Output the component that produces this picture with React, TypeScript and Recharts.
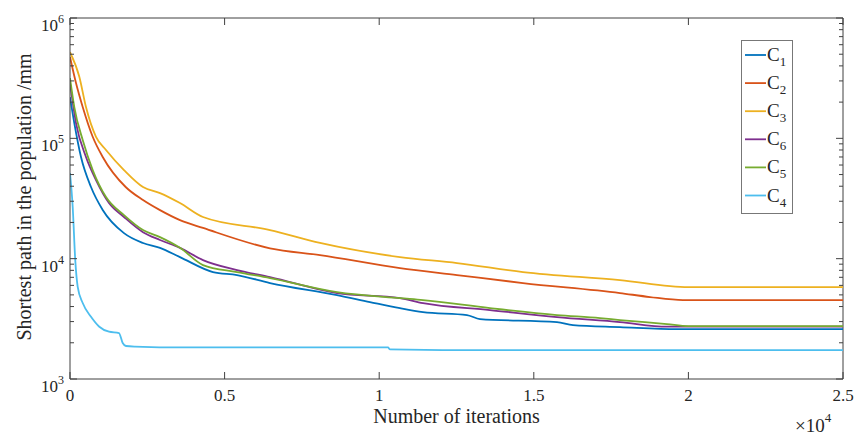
import React from 'react';
import { LineChart, Line, XAxis, YAxis, Legend, ReferenceLine } from 'recharts';

// ---------- data ----------
const C1_ITER = [0, 139, 356, 679, 1058, 1746, 2361, 2911, 3557, 4625, 5401, 6468, 8635, 9702, 10672, 11416, 12839, 13260, 15750, 16267, 17787, 19630, 25000];
const C1_VAL = [220000, 134000, 70000, 39400, 25400, 16300, 13500, 12300, 10300, 7740, 7310, 6270, 4980, 4360, 3880, 3600, 3400, 3150, 2970, 2800, 2700, 2600, 2600];

const C2_ITER = [0, 194, 411, 734, 1058, 1800, 2361, 2911, 3557, 4301, 6468, 8085, 10672, 12516, 14650, 17787, 18758, 19825, 25000];
const C2_VAL = [474000, 288000, 182000, 103000, 70000, 39400, 30700, 25300, 20900, 18000, 12200, 10700, 8350, 7310, 6270, 5180, 4800, 4530, 4530];

const C3_ITER = [0, 301, 517, 841, 1164, 1746, 2361, 2911, 3557, 4301, 6468, 8085, 10672, 12516, 14650, 17787, 20000, 25000];
const C3_VAL = [521000, 325000, 182000, 103000, 80000, 54500, 39400, 35100, 29000, 22200, 17300, 13500, 10300, 9200, 7740, 6640, 5810, 5810];

const C6_ITER = [0, 194, 517, 841, 1261, 1746, 2361, 2911, 3557, 4301, 5401, 6468, 8635, 10672, 11416, 13583, 15750, 17787, 19307, 20000, 25000];
const C6_VAL = [288000, 134000, 70000, 45000, 29000, 22200, 16600, 14300, 12300, 9730, 8040, 7030, 5180, 4700, 4270, 3740, 3270, 2970, 2720, 2720, 2720];

const C5_ITER = [0, 139, 411, 734, 1164, 1746, 2361, 2911, 3557, 4301, 5401, 6468, 8635, 10672, 11416, 13583, 15750, 17140, 17787, 19307, 20000, 25000];
const C5_VAL = [317000, 182000, 96800, 54500, 32500, 23000, 17300, 15100, 12300, 8850, 7740, 6900, 5280, 4700, 4530, 3880, 3400, 3210, 3090, 2860, 2750, 2750];

const C4_ITER = [0, 87, 170, 249, 411, 679, 948, 1261, 1585, 1704, 1811, 2102, 3687, 10284, 10350, 12516, 25000];
const C4_VAL = [51500, 27000, 9720, 5840, 4280, 3290, 2720, 2470, 2410, 1990, 1880, 1860, 1830, 1830, 1760, 1740, 1740];

const SERIES_NAMES = ['C1', 'C2', 'C3', 'C6', 'C5', 'C4'];
const SERIES_SUBS = ['1', '2', '3', '6', '5', '4'];
const SERIES_COLORS = ['#0072BD', '#D95319', '#EDB120', '#7E2F8E', '#77AC30', '#4DBEEE'];

const X_TICKS = [0, 5000, 10000, 15000, 20000, 25000];
const X_TICK_LABELS = ['0', '0.5', '1', '1.5', '2', '2.5'];
const Y_TICKS = [
  1000, 2000, 3000, 4000, 5000, 6000, 7000, 8000, 9000,
  10000, 20000, 30000, 40000, 50000, 60000, 70000, 80000, 90000,
  100000, 200000, 300000, 400000, 500000, 600000, 700000, 800000, 900000,
  1000000,
];
const Y_MAJOR = [1000, 10000, 100000, 1000000];
const Y_MAJOR_EXP = ['3', '4', '5', '6'];

const X_LABEL = 'Number of iterations';
const Y_LABEL = 'Shortest path in the population /mm';

// ---------- layout ----------
const W = 858;
const H = 438;
const PL = 70;
const PR = 843;
const PT = 18;
const PB = 379;
const AXIS_COLOR = '#404040';
const TEXT_COLOR = '#262626';
const FONT = '"Liberation Serif", "Times New Roman", serif';

const zip = (xs: number[], ys: number[]) => xs.map((x, i) => ({ x, y: ys[i] }));
const SERIES_DATA = [
  zip(C1_ITER, C1_VAL),
  zip(C2_ITER, C2_VAL),
  zip(C3_ITER, C3_VAL),
  zip(C6_ITER, C6_VAL),
  zip(C5_ITER, C5_VAL),
  zip(C4_ITER, C4_VAL),
];

const XTick = (props: any) => {
  const { x, payload } = props;
  const idx = X_TICKS.indexOf(payload.value);
  return (
    <g>
      <line x1={x} x2={x} y1={PB} y2={PB - 7} stroke={AXIS_COLOR} strokeWidth={1} />
      <line x1={x} x2={x} y1={PT} y2={PT + 7} stroke={AXIS_COLOR} strokeWidth={1} />
      <text x={x} y={PB + 22} textAnchor="middle" fontFamily={FONT} fontSize={17} fill={TEXT_COLOR}>
        {idx >= 0 ? X_TICK_LABELS[idx] : ''}
      </text>
    </g>
  );
};

const YTick = (props: any) => {
  const { y, payload } = props;
  const mi = Y_MAJOR.indexOf(payload.value);
  const major = mi >= 0;
  const len = major ? 7 : 4;
  return (
    <g>
      <line x1={PL} x2={PL + len} y1={y} y2={y} stroke={AXIS_COLOR} strokeWidth={1} />
      <line x1={PR} x2={PR - len} y1={y} y2={y} stroke={AXIS_COLOR} strokeWidth={1} />
      {major && (
        <text x={PL - 6} y={y + 13} textAnchor="end" fontFamily={FONT} fontSize={17} fill={TEXT_COLOR}>
          10
          <tspan fontSize={12} dy={-8}>{Y_MAJOR_EXP[mi]}</tspan>
        </text>
      )}
    </g>
  );
};

const LegendBox = () => (
  <svg width={54} height={176} style={{ display: 'block' }}>
    <rect x={0.5} y={0.5} width={51} height={173} fill="#ffffff" stroke="#777" strokeWidth={1} />
    {SERIES_NAMES.map((n, i) => {
      const cy = 15 + i * 28.1;
      return (
        <g key={n}>
          <line x1={4} x2={25} y1={cy} y2={cy} stroke={SERIES_COLORS[i]} strokeWidth={1.8} />
          <text x={26} y={cy + 6} fontFamily={FONT} fontSize={19} fill={TEXT_COLOR}>
            C
            <tspan fontSize={13} dy={5}>{SERIES_SUBS[i]}</tspan>
          </text>
        </g>
      );
    })}
  </svg>
);

export default function App() {
  return (
    <div style={{ position: 'absolute', left: 0, top: 0, width: W, height: H, background: '#fff' }}>
      <LineChart width={W} height={H} margin={{ top: PT, right: W - PR, bottom: 0, left: 0 }}>
        <XAxis
          type="number"
          dataKey="x"
          domain={[0, 25000]}
          ticks={X_TICKS}
          interval={0}
          height={H - PB}
          tickLine={false}
          axisLine={{ stroke: AXIS_COLOR, strokeWidth: 1 }}
          tick={<XTick />}
          allowDataOverflow
        />
        <YAxis
          type="number"
          scale="log"
          domain={[1000, 1000000]}
          ticks={Y_TICKS}
          interval={0}
          width={PL}
          tickLine={false}
          axisLine={{ stroke: AXIS_COLOR, strokeWidth: 1 }}
          tick={<YTick />}
          allowDataOverflow
        />
        <ReferenceLine y={1000000} stroke={AXIS_COLOR} strokeWidth={1} />
        <ReferenceLine x={25000} stroke={AXIS_COLOR} strokeWidth={1} />
        {SERIES_DATA.map((d, i) => (
          <Line
            key={SERIES_NAMES[i]}
            data={d}
            dataKey="y"
            name={SERIES_NAMES[i]}
            type="monotoneX"
            stroke={SERIES_COLORS[i]}
            strokeWidth={1.8}
            dot={false}
            activeDot={false}
            isAnimationActive={false}
          />
        ))}
        <Legend
          layout="vertical"
          align="center"
          verticalAlign="middle"
          content={<LegendBox />}
          wrapperStyle={{ position: 'absolute', left: 741, top: 40, width: 54, height: 176 }}
        />
        <text x={(PL + PR) / 2} y={423} textAnchor="middle" fontFamily={FONT} fontSize={20} fill={TEXT_COLOR}>
          {X_LABEL}
        </text>
        <text x={795} y={432} textAnchor="start" fontFamily={FONT} fontSize={19} fill={TEXT_COLOR}>
          ×10
          <tspan fontSize={13} dy={-10}>4</tspan>
        </text>
        <text
          x={0}
          y={0}
          transform={`translate(31, 197) rotate(-90)`}
          textAnchor="middle"
          fontFamily={FONT}
          fontSize={20}
          fill={TEXT_COLOR}
        >
          {Y_LABEL}
        </text>
      </LineChart>
    </div>
  );
}
